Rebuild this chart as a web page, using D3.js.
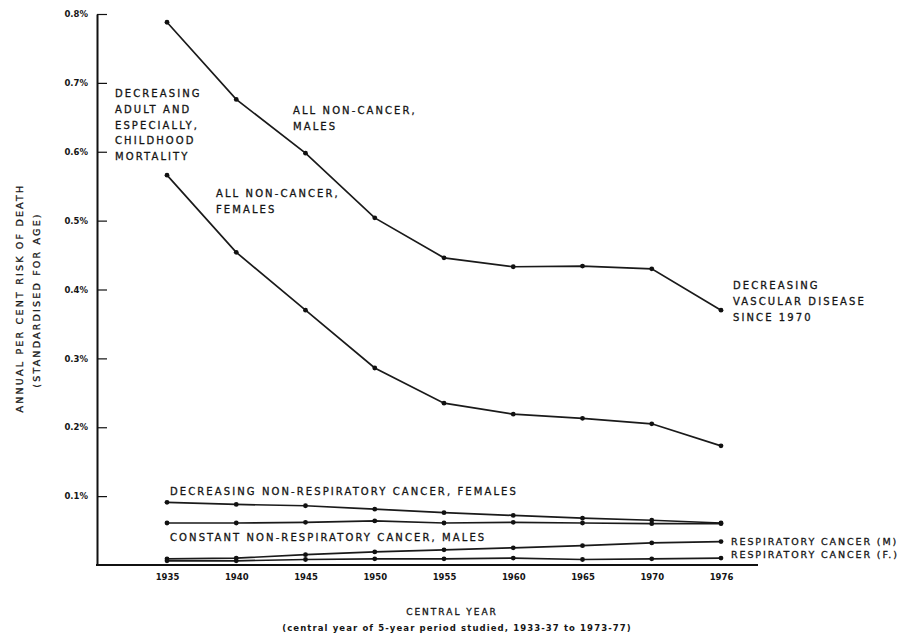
<!DOCTYPE html>
<html>
<head>
<meta charset="utf-8">
<script src="https://cdn.jsdelivr.net/npm/d3@7"></script>
<style>
  body { margin: 0; background: #fff; }
  svg text { font-family: "DejaVu Sans", "Liberation Sans", sans-serif; fill: #151515; }
  .tick text { font-size: 8.5px; font-weight: bold; }
  .note { font-size: 10px; letter-spacing: 2.1px; stroke: #151515; stroke-width: 0.3px; }
</style>
</head>
<body>
<svg width="909" height="639"></svg>
<script>
// categories (central years) as printed on the axis
const years = ["1935", "1940", "1945", "1950", "1955", "1960", "1965", "1970", "1976"];
const yTicks = [0.1, 0.2, 0.3, 0.4, 0.5, 0.6, 0.7, 0.8];

// annual per cent risk of death
const nonCancerMales   = [0.788, 0.676, 0.598, 0.504, 0.446, 0.433, 0.434, 0.430, 0.370];
const nonCancerFemales = [0.566, 0.454, 0.370, 0.286, 0.235, 0.219, 0.213, 0.205, 0.173];
const nonRespFemales   = [0.091, 0.088, 0.086, 0.081, 0.076, 0.072, 0.068, 0.065, 0.061];
const nonRespMales     = [0.061, 0.061, 0.062, 0.064, 0.061, 0.062, 0.061, 0.060, 0.060];
const respMales        = [0.009, 0.010, 0.015, 0.019, 0.022, 0.025, 0.028, 0.032, 0.034];
const respFemales      = [0.006, 0.006, 0.008, 0.009, 0.009, 0.010, 0.008, 0.009, 0.010];

const series = [nonCancerMales, nonCancerFemales, nonRespFemales, nonRespMales, respMales, respFemales];

const svg = d3.select("svg");

const x = d3.scalePoint().domain(years).range([167, 721]);
const y = d3.scaleLinear().domain([0, 0.8]).range([565, 14]);

// y axis, ticks pointing inward
svg.append("g")
    .attr("transform", "translate(97,0)")
    .call(d3.axisLeft(y).tickValues(yTicks).tickSizeInner(-10).tickSizeOuter(0).tickPadding(9)
        .tickFormat(d => d.toFixed(1) + "%"))
    .call(g => g.select(".domain").attr("stroke-width", 2).attr("stroke", "#111"))
    .call(g => g.selectAll(".tick line").attr("stroke", "#111").attr("stroke-width", 1.2));

// x axis: plain baseline with year labels below
svg.append("line")
    .attr("x1", 96).attr("x2", 758)
    .attr("y1", y(0)).attr("y2", y(0))
    .attr("stroke", "#111").attr("stroke-width", 2);

svg.append("g")
    .attr("transform", "translate(0," + y(0) + ")")
    .call(d3.axisBottom(x).tickSize(0).tickPadding(9))
    .call(g => g.select(".domain").remove());

const line = d3.line()
    .x((d, i) => x(years[i]))
    .y(d => y(d));

const lines = svg.append("g");

series.forEach(s => {
    lines.append("path")
        .attr("d", line(s))
        .attr("fill", "none")
        .attr("stroke", "#1a1a1a")
        .attr("stroke-width", 1.7);

    lines.selectAll(null)
        .data(s)
        .enter().append("circle")
        .attr("cx", (d, i) => x(years[i]))
        .attr("cy", d => y(d))
        .attr("r", 2.4)
        .attr("fill", "#111");
});

// annotations
const notes = [
    {x: 115, y: 97, lines: ["DECREASING", "ADULT AND", "ESPECIALLY,", "CHILDHOOD", "MORTALITY"]},
    {x: 293, y: 114, lines: ["ALL NON-CANCER,", "MALES"]},
    {x: 216, y: 197, lines: ["ALL NON-CANCER,", "FEMALES"]},
    {x: 733, y: 289, lines: ["DECREASING", "VASCULAR DISEASE", "SINCE 1970"]},
    {x: 170, y: 495, lines: ["DECREASING NON-RESPIRATORY CANCER, FEMALES"]},
    {x: 170, y: 541, lines: ["CONSTANT NON-RESPIRATORY CANCER, MALES"]},
    {x: 731, y: 545, lines: ["RESPIRATORY CANCER (M)"]},
    {x: 731, y: 558, lines: ["RESPIRATORY CANCER (F.)"]}
];

notes.forEach(n => {
    svg.append("text")
        .attr("class", "note")
        .attr("x", n.x)
        .attr("y", n.y)
        .selectAll("tspan")
        .data(n.lines)
        .enter().append("tspan")
        .attr("x", n.x)
        .attr("dy", (d, i) => i ? 15.8 : 0)
        .text(d => d);
});

// the two stacked respiratory labels sit close together
svg.selectAll(".note").filter(function() { return +this.getAttribute("x") === 731; })
    .style("font-size", "9.5px").style("letter-spacing", "1.9px");

// axis titles
svg.append("text")
    .attr("transform", "translate(23,298) rotate(-90)")
    .attr("text-anchor", "middle")
    .attr("class", "note")
    .style("font-size", "9.5px")
    .style("letter-spacing", "2.2px")
    .text("ANNUAL PER CENT RISK OF DEATH");

svg.append("text")
    .attr("transform", "translate(40,300) rotate(-90)")
    .attr("text-anchor", "middle")
    .attr("class", "note")
    .style("font-size", "9.5px")
    .style("letter-spacing", "2.2px")
    .text("(STANDARDISED FOR AGE)");

svg.append("text")
    .attr("x", 452).attr("y", 615)
    .attr("text-anchor", "middle")
    .attr("class", "note")
    .style("font-size", "9px")
    .style("letter-spacing", "2px")
    .text("CENTRAL YEAR");

svg.append("text")
    .attr("x", 457).attr("y", 631)
    .attr("text-anchor", "middle")
    .style("font-size", "8.5px")
    .style("font-weight", "bold")
    .style("letter-spacing", "1.1px")
    .text("(central year of 5-year period studied, 1933-37 to 1973-77)");
</script>
</body>
</html>
